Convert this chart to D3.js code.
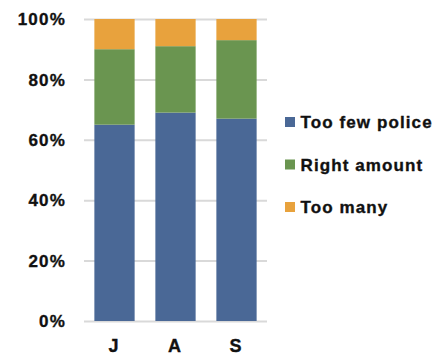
<!DOCTYPE html>
<html><head><meta charset="utf-8">
<script src="https://cdn.jsdelivr.net/npm/d3@7"></script>
<style>body{margin:0;background:#fff}svg{display:block}text{fill:#111;stroke:#111;stroke-width:0.35px}</style>
</head><body>
<svg id="c" width="440" height="356"></svg>
<script>
const categories = ["J", "A", "S"];
const seriesNames = ["Too few police", "Right amount", "Too many"];
const tooFew = [65, 69, 67];
const rightAmount = [25, 22, 26];
const tooMany = [10, 9, 7];
const yTicks = [0, 20, 40, 60, 80, 100];
const colors = ["#4a6896", "#6a9550", "#e8a23d"];

const rows = categories.map((c, i) => ({cat: c, s0: tooFew[i], s1: rightAmount[i], s2: tooMany[i]}));
const stack = d3.stack().keys(["s0", "s1", "s2"])(rows);

const svg = d3.select("#c");
const x = d3.scaleBand().domain(categories).range([84, 267]).paddingInner(0.34).paddingOuter(0.17);
const y = d3.scaleLinear().domain([0, 100]).range([321, 19]);
const font = "'Liberation Sans', Arial, sans-serif";

// gridlines
svg.append("g").selectAll("line").data(yTicks).join("line")
  .attr("x1", 84).attr("x2", 267)
  .attr("y1", d => y(d) + 0.5).attr("y2", d => y(d) + 0.5)
  .attr("stroke", "#d9d9d9").attr("stroke-width", 2);

// y labels
svg.append("g").selectAll("text").data(yTicks).join("text")
  .attr("x", 66).attr("y", d => y(d)).attr("dy", "0.36em")
  .attr("text-anchor", "end")
  .style("font-family", font).style("font-weight", "bold").style("font-size", "17px")
  .style("letter-spacing", "1.2px")
  .text(d => d + "%");

// bars
svg.append("g").selectAll("g").data(stack).join("g")
  .attr("fill", (d, i) => colors[i])
  .selectAll("rect").data(d => d).join("rect")
  .attr("x", d => x(d.data.cat)).attr("width", x.bandwidth())
  .attr("y", d => y(d[1])).attr("height", d => y(d[0]) - y(d[1]));

// x labels
svg.append("g").selectAll("text").data(categories).join("text")
  .attr("x", d => x(d) + x.bandwidth() / 2 - 1).attr("y", 352)
  .attr("text-anchor", "middle")
  .style("font-family", font).style("font-weight", "bold").style("font-size", "18px")
  .text(d => d);

// legend
const lg = svg.append("g").selectAll("g").data(seriesNames).join("g")
  .attr("transform", (d, i) => `translate(285, ${122 + i * 42.5})`);
lg.append("rect").attr("x", 0).attr("y", -5).attr("width", 10).attr("height", 10)
  .attr("fill", (d, i) => colors[i]);
lg.append("text").attr("x", 15.5).attr("dy", "0.36em")
  .style("font-family", font).style("font-weight", "bold").style("font-size", "17px")
  .style("letter-spacing", "1.1px")
  .text(d => d);
</script>
</body></html>
